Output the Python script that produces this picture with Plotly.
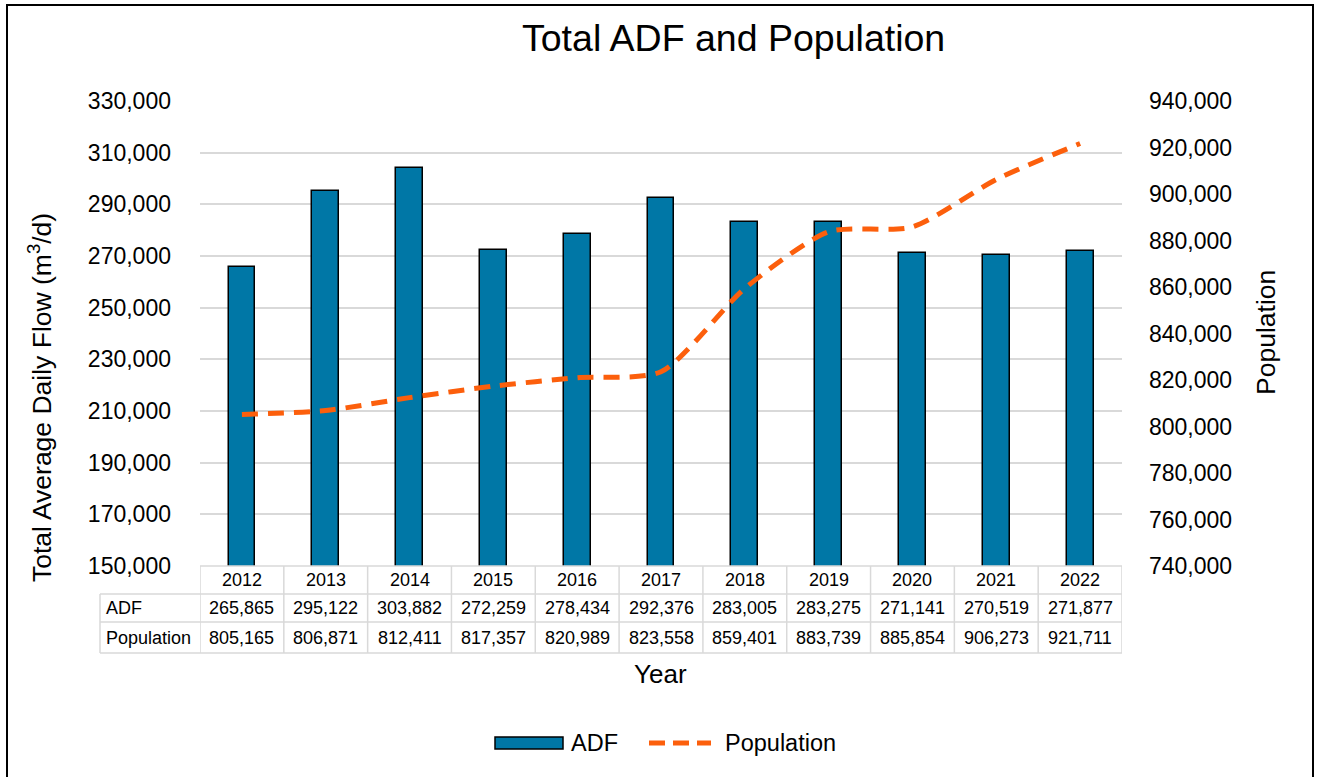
import plotly.graph_objects as go

years = ["2012", "2013", "2014", "2015", "2016", "2017", "2018", "2019", "2020", "2021", "2022"]
adf = [265865, 295122, 303882, 272259, 278434, 292376, 283005, 283275, 271141, 270519, 271877]
population = [805165, 806871, 812411, 817357, 820989, 823558, 859401, 883739, 885854, 906273, 921711]

W, H = 1317, 777
L, R, T, B = 200, 195, 101, 211
PW = W - L - R
PH = H - T - B
FONT = "Liberation Sans, Arial, sans-serif"
BAR_COLOR = "#0077A6"
LINE_COLOR = "#FC5F0C"
GRID = "#D9D9D9"


def px(xp):
    return (xp - L) / PW


def py(yp):
    return (H - B - yp) / PH


fig = go.Figure()
fig.add_trace(go.Bar(
    x=list(range(len(years))), y=adf, name="ADF",
    marker=dict(color=BAR_COLOR, line=dict(color="#000000", width=1.5)),
    width=0.32, yaxis="y", showlegend=False,
))
fig.add_trace(go.Scatter(
    x=list(range(len(years))), y=population, name="Population", mode="lines",
    line=dict(color=LINE_COLOR, width=5, dash="16px,10px", shape="spline", smoothing=0.7),
    yaxis="y2", showlegend=False,
))

shapes = []
annotations = []

# data table
row_y = [566, 594, 622, 653]
n = len(years)
shapes.append(dict(type="line", xref="x", yref="paper", x0=-0.5, x1=n - 0.5,
                   y0=py(row_y[0]), y1=py(row_y[0]), line=dict(color=GRID, width=1.5)))
for yy in row_y[1:]:
    shapes.append(dict(type="line", xref="paper", yref="paper", x0=px(100), x1=1,
                       y0=py(yy), y1=py(yy), line=dict(color=GRID, width=1.5)))
shapes.append(dict(type="line", xref="paper", yref="paper", x0=px(100), x1=px(100),
                   y0=py(row_y[1]), y1=py(row_y[3]), line=dict(color=GRID, width=1.5)))
for i in range(n + 1):
    shapes.append(dict(type="line", xref="x", yref="paper", x0=i - 0.5, x1=i - 0.5,
                       y0=py(row_y[0]), y1=py(row_y[3]), line=dict(color=GRID, width=1.5)))

tfont = dict(family=FONT, size=18, color="#000000")
row_labels = ["ADF", "Population"]
row_vals = [adf, population]
for i, yr in enumerate(years):
    annotations.append(dict(x=i, y=py((row_y[0] + row_y[1]) / 2), xref="x", yref="paper",
                            text=yr, showarrow=False, font=tfont, xanchor="center", yanchor="middle"))
    for r in range(2):
        annotations.append(dict(x=i, y=py((row_y[r + 1] + row_y[r + 2]) / 2), xref="x", yref="paper",
                                text=f"{row_vals[r][i]:,}", showarrow=False, font=tfont,
                                xanchor="center", yanchor="middle"))
for r in range(2):
    annotations.append(dict(x=px(104), y=py((row_y[r + 1] + row_y[r + 2]) / 2), xref="paper", yref="paper",
                            text=row_labels[r], showarrow=False, font=tfont,
                            xanchor="left", yanchor="middle"))

# titles
annotations.append(dict(x=px(733), y=py(38), xref="paper", yref="paper", text="Total ADF and Population",
                        showarrow=False, font=dict(family=FONT, size=37.5, color="#000000"),
                        xanchor="center", yanchor="middle"))
annotations.append(dict(x=px(660), y=py(674), xref="paper", yref="paper", text="Year",
                        showarrow=False, font=dict(family=FONT, size=26, color="#000000"),
                        xanchor="center", yanchor="middle"))
annotations.append(dict(x=px(40), y=py(398), xref="paper", yref="paper",
                        text="Total Average Daily Flow (m<sup>3</sup>/d)", textangle=-90,
                        showarrow=False, font=dict(family=FONT, size=26.5, color="#000000"),
                        xanchor="center", yanchor="middle"))
annotations.append(dict(x=px(1266), y=py(333), xref="paper", yref="paper",
                        text="Population", textangle=-90,
                        showarrow=False, font=dict(family=FONT, size=26.5, color="#000000"),
                        xanchor="center", yanchor="middle"))

# legend
shapes.append(dict(type="rect", xref="paper", yref="paper", x0=px(495), x1=px(563),
                   y0=py(749), y1=py(737), fillcolor=BAR_COLOR, line=dict(color="#000000", width=1.5)))
annotations.append(dict(x=px(569), y=py(743), xref="paper", yref="paper", text="ADF",
                        showarrow=False, font=dict(family=FONT, size=23.5, color="#000000"),
                        xanchor="left", yanchor="middle"))
shapes.append(dict(type="line", xref="paper", yref="paper", x0=px(649), x1=px(711),
                   y0=py(743), y1=py(743), line=dict(color=LINE_COLOR, width=5, dash="16px,8px")))
annotations.append(dict(x=px(723), y=py(743), xref="paper", yref="paper", text="Population",
                        showarrow=False, font=dict(family=FONT, size=23.5, color="#000000"),
                        xanchor="left", yanchor="middle"))

# outer frame
shapes.append(dict(type="rect", xref="paper", yref="paper", x0=px(7), x1=px(1313),
                   y0=py(800), y1=py(5), line=dict(color="#000000", width=2), layer="below"))

fig.update_layout(
    width=W, height=H,
    margin=dict(l=L, r=R, t=T, b=B, pad=0),
    paper_bgcolor="white", plot_bgcolor="white",
    font=dict(family=FONT, color="#000000"),
    showlegend=False,
    bargap=0,
    xaxis=dict(range=[-0.5, n - 0.5], showticklabels=False, showgrid=False, zeroline=False,
               showline=False, ticks="", fixedrange=True),
    yaxis=dict(range=[150000, 330000], tick0=150000, dtick=20000, tickformat=",", showgrid=True,
               gridcolor=GRID, gridwidth=1.5, zeroline=False, showline=False, ticks="",
               ticklabelstandoff=28, tickfont=dict(family=FONT, size=23, color="#000000")),
    yaxis2=dict(range=[740000, 940000], tick0=740000, dtick=20000, tickformat=",", overlaying="y",
                side="right", showgrid=False, zeroline=False, showline=False, ticks="",
                ticklabelstandoff=26, tickfont=dict(family=FONT, size=23, color="#000000")),
    shapes=shapes, annotations=annotations,
)

fig.write_html("out.html", config={"displayModeBar": False},
               post_script="document.body.style.margin='0px';document.body.style.overflow='hidden';")
